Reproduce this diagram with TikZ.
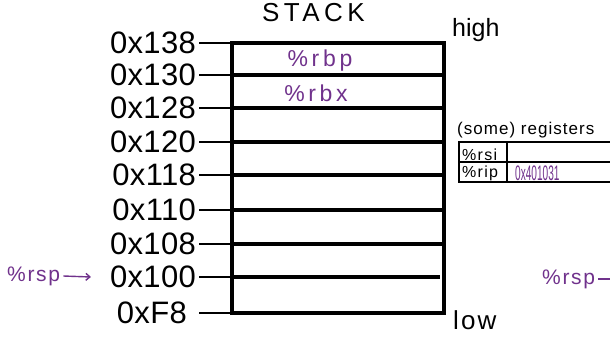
\documentclass[tikz,border=0pt]{standalone}
\usepackage{fontspec}
\setmainfont{Liberation Sans}
\usetikzlibrary{arrows.meta}
\definecolor{regpurple}{RGB}{112,50,140}
\begin{document}
\begin{tikzpicture}[x=1pt,y=-1pt,
  addr/.style={anchor=east, inner sep=0pt,
    font=\fontsize{31}{31}\selectfont\addfontfeature{LetterSpace=1}},
  slot/.style={inner sep=0pt, text=regpurple,
    font=\fontsize{23}{23}\selectfont\addfontfeature{LetterSpace=16}},
  note/.style={inner sep=0pt, font=\fontsize{25}{25}\selectfont},
  cell/.style={anchor=west, inner sep=0pt, font=\fontsize{16}{16}\selectfont\addfontfeature{LetterSpace=8}},
  ptr/.style={inner sep=0pt, text=regpurple,
    font=\fontsize{21}{21}\selectfont\addfontfeature{LetterSpace=8}},
  frame/.style={line width=3.4pt},
  tick/.style={line width=2.2pt},
  thinrule/.style={line width=1.6pt},
  ptrarrow/.style={regpurple, line width=1.4pt, -{Straight Barb[length=4pt,width=7pt]}}
]
\useasboundingbox (0,0) rectangle (610,337);

% title
\node[anchor=base west, inner sep=0pt,
  font=\fontsize{26}{26}\selectfont\addfontfeature{LetterSpace=17}] (title) at (262,22) {STACK};

% the stack frame and its slot dividers
\draw[frame] (232,43) rectangle (444,313);
\foreach \y in {75,108,142,175,210,244} \draw[frame] (232,\y) -- (444,\y);
\draw[frame] (232,277) -- (440,277);

% addresses with their ticks
\foreach \y/\t [count=\i] in {43/0x138, 75/0x130, 108/0x128, 142/0x120,
                              175/0x118, 210/0x110, 244/0x108, 277/0x100} {
  \node[addr] (a\i) at (196,\y) {\t};
  \coordinate (r\i) at (232,\y);
  \draw[tick] ([xshift=3pt]a\i.east |- r\i) -- (r\i);
}
\node[addr] (a9) at (187,313) {0xF8};
\coordinate (r9) at (232,313);
\draw[tick] ([xshift=12pt]a9.east |- r9) -- (r9);

% saved registers on the stack
\node[slot] (rbp) at (320,61) {\%rbp};
\node[slot] (rbx) at (316,93) {\%rbx};

% high / low ends
\node[note, anchor=base west] (high) at (452,37) {high};
\node[note, anchor=base west, font=\fontsize{26}{26}\selectfont\addfontfeature{LetterSpace=8}] (low) at (453,329) {low};

% stack pointer
\node[ptr, anchor=west] (rspL) at (7,276) {\%rsp};
\draw[ptrarrow] ([xshift=3pt]rspL.east) -- ([xshift=-19pt]a8.west);

% register table
\node[anchor=base west, inner sep=0pt, font=\fontsize{17}{17}\selectfont\addfontfeature{LetterSpace=6}] (regs) at (457,134) {(some) registers};
\draw[thinrule] (459,142) rectangle (625,182);
\draw[thinrule] (459,162) -- (625,162);
\draw[thinrule] (507,142) -- (507,182);
\node[cell] (rsi) at (462,155) {\%rsi};
\node[cell] (rip) at (462,173) {\%rip};
\node[cell, text=regpurple, font=\fontsize{21}{21}\selectfont] (ripv) at (515,173) {\scalebox{0.48}[1]{0x401031}};

% stack pointer, second view
\node[ptr, anchor=west] (rspR) at (542,279) {\%rsp};
\coordinate (rspEnd) at (640,279);
\draw[ptrarrow] ([xshift=3pt]rspR.east) -- (rspEnd);
\end{tikzpicture}
\end{document}
